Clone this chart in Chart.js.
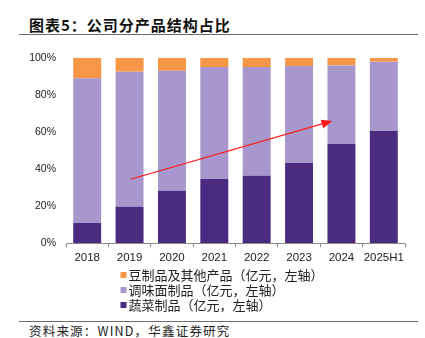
<!DOCTYPE html>
<html>
<head>
<meta charset="utf-8">
<script src="https://cdn.jsdelivr.net/npm/chart.js@4.4.0/dist/chart.umd.min.js"></script>
<style>
  body { margin: 0; width: 425px; height: 338px; position: relative; background: #fff; overflow: hidden;
         font-family: "Noto Sans CJK SC", sans-serif; }
  #title { position: absolute; left: 29px; top: 16px; font-size: 15px; line-height: 18px; font-weight: bold;
           color: #111; letter-spacing: 1px; white-space: nowrap; }
  .rule { position: absolute; left: 19px; width: 399px; height: 0; border-top: 1.5px solid #6b6b6b; }
  #wrap { position: absolute; left: 0; top: 40px; width: 425px; height: 280px; }
  #source { position: absolute; left: 29px; top: 323px; font-size: 12.5px; line-height: 15px; color: #222;
            letter-spacing: 1.2px; white-space: nowrap; }
</style>
</head>
<body>
<div id="title">图表5：公司分产品结构占比</div>
<div class="rule" style="top:34px"></div>
<div id="wrap"><canvas id="mixChart"></canvas></div>
<div class="rule" style="top:321px"></div>
<div id="source">资料来源：WIND，华鑫证券研究</div>

<script>
// categories and shares (%)
const years = ["2018", "2019", "2020", "2021", "2022", "2023", "2024", "2025H1"];
const vegShare = [10.8, 19.6, 28.3, 34.6, 36.4, 43.2, 53.5, 60.5];     // 蔬菜制品
const noodleShare = [78.2, 73.0, 64.8, 60.5, 58.7, 52.5, 42.5, 37.5];  // 调味面制品
const beanShare = [11.0, 7.4, 6.9, 4.9, 4.9, 4.3, 4.0, 2.0];           // 豆制品及其他产品
const yTicks = [0, 20, 40, 60, 80, 100];
// trend arrow, [category index, percent]
const arrowFrom = [1.04, 34.6];
const arrowTo = [5.79, 66.0];

const ctx = document.getElementById('mixChart').getContext('2d');

// legend drawn as a plain list under the axis (one item per line, left aligned)
const listLegend = {
    id: 'listLegend',
    afterDraw(chart) {
        const c = chart.ctx;
        const items = chart.data.datasets.slice().reverse();
        const top = chart.chartArea.bottom + 32;
        c.save();
        c.font = '13px "Noto Sans CJK SC", sans-serif';
        c.textBaseline = 'middle';
        items.forEach((ds, i) => {
            const y = top + i * 15;
            c.fillStyle = ds.backgroundColor;
            c.fillRect(120.5, y - 3, 6, 6);
            c.fillStyle = '#222';
            c.fillText(ds.label, 128.5, y);
        });
        c.restore();
    }
};

// red trend arrow
const trendArrow = {
    id: 'trendArrow',
    afterDatasetsDraw(chart) {
        const xs = chart.scales.x, ys = chart.scales.y;
        const x1 = xs.getPixelForValue(arrowFrom[0]), y1 = ys.getPixelForValue(arrowFrom[1]);
        const x2 = xs.getPixelForValue(arrowTo[0]), y2 = ys.getPixelForValue(arrowTo[1]);
        const a = Math.atan2(y2 - y1, x2 - x1);
        const c = chart.ctx;
        c.save();
        c.strokeStyle = '#ff1a1a';
        c.fillStyle = '#ff1a1a';
        c.lineWidth = 1.2;
        c.beginPath();
        c.moveTo(x1, y1);
        c.lineTo(x2 - 9 * Math.cos(a), y2 - 9 * Math.sin(a));
        c.stroke();
        c.beginPath();
        c.moveTo(x2, y2);
        c.lineTo(x2 - 11 * Math.cos(a) + 4.5 * Math.sin(a), y2 - 11 * Math.sin(a) - 4.5 * Math.cos(a));
        c.lineTo(x2 - 11 * Math.cos(a) - 4.5 * Math.sin(a), y2 - 11 * Math.sin(a) + 4.5 * Math.cos(a));
        c.closePath();
        c.fill();
        c.restore();
    }
};

let chart = new Chart(ctx, {
    type: 'bar',
    data: {
        labels: years,
        datasets: [{
            label: '蔬菜制品（亿元，左轴）',
            data: vegShare,
            backgroundColor: '#4b2b80'
        }, {
            label: '调味面制品（亿元，左轴）',
            data: noodleShare,
            backgroundColor: '#a797cc'
        }, {
            label: '豆制品及其他产品（亿元，左轴）',
            data: beanShare,
            backgroundColor: '#f79646'
        }]
    },
    options: {
        responsive: true,
        maintainAspectRatio: false,
        animation: false,
        layout: { padding: { top: 18, right: 20, bottom: 57, left: 0 } },
        datasets: { bar: { barPercentage: 0.66, categoryPercentage: 1 } },
        plugins: {
            legend: { display: false },
            tooltip: { enabled: false }
        },
        scales: {
            x: {
                stacked: true,
                border: { color: '#8c8c8c', width: 1 },
                grid: { drawOnChartArea: false, drawTicks: true, tickLength: 4, color: '#8c8c8c', offset: true },
                ticks: {
                    padding: 4, color: '#222', autoSkip: false, maxRotation: 0,
                    font: { family: 'Liberation Sans, Arial', size: 11.5 }
                },
                afterFit: s => { s.height = 20; }
            },
            y: {
                stacked: true,
                min: 0,
                max: 100,
                border: { display: false },
                grid: { display: false, drawTicks: false },
                afterBuildTicks: s => { s.ticks = yTicks.map(v => ({ value: v })); },
                ticks: {
                    padding: 10,
                    color: '#222',
                    font: { family: 'Liberation Sans, Arial', size: 10.5 },
                    callback: v => v + '%'
                },
                afterFit: s => { s.width = 66; }
            }
        }
    },
    plugins: [trendArrow, listLegend]
});
</script>
</body>
</html>
